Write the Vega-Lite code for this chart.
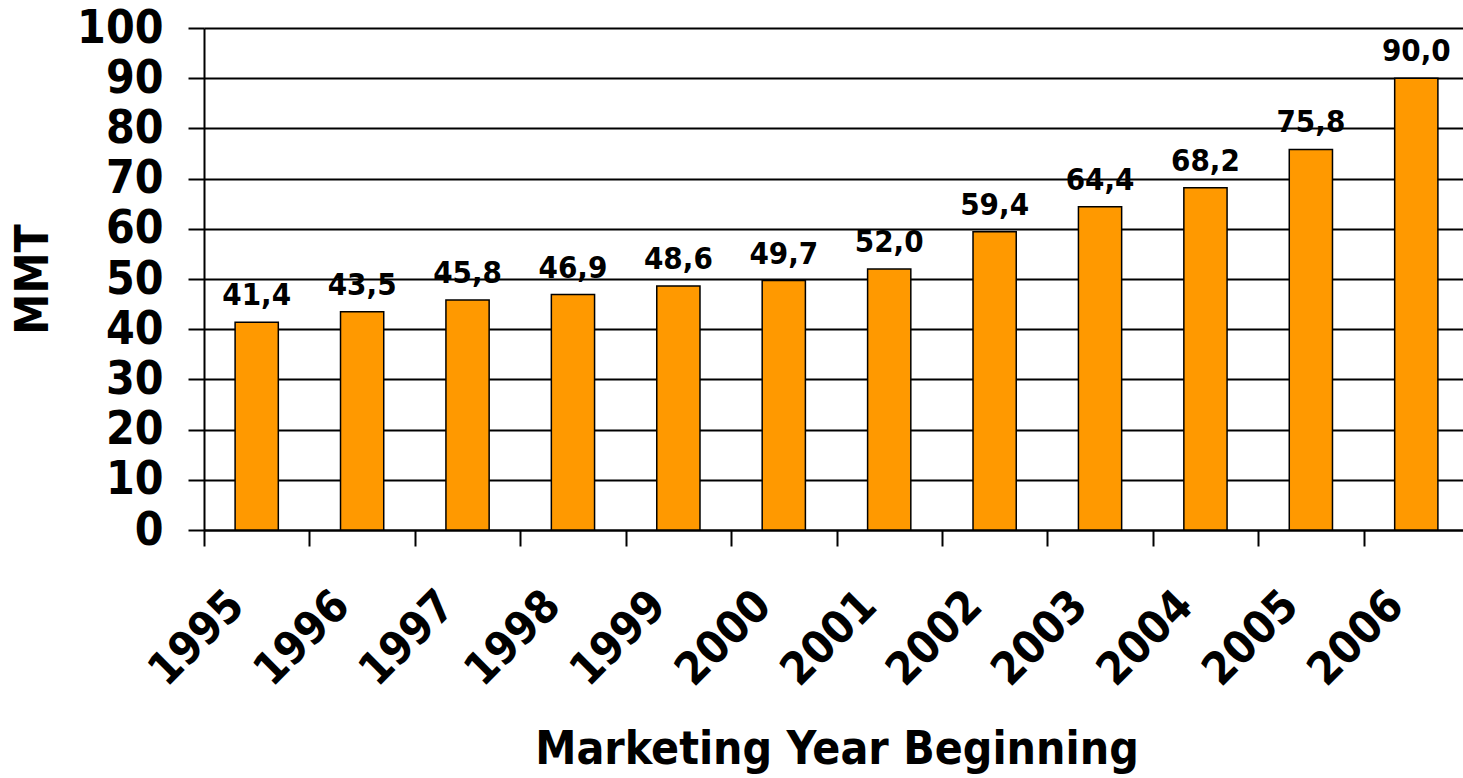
{
  "$schema": "https://vega.github.io/schema/vega-lite/v6.json",
  "autosize": {"type": "none"},
  "width": 1259,
  "height": 502,
  "padding": {"left": 204, "top": 28, "right": 0, "bottom": 248},
  "background": "white",
  "config": {
    "view": {"stroke": null},
    "font": "DejaVu Sans Condensed",
    "locale": {"number": {"decimal": ",", "thousands": ".", "grouping": [3], "currency": ["", ""]}}
  },
  "data": {"values": [
    {"year": "1995", "mmt": 41.4},
    {"year": "1996", "mmt": 43.5},
    {"year": "1997", "mmt": 45.8},
    {"year": "1998", "mmt": 46.9},
    {"year": "1999", "mmt": 48.6},
    {"year": "2000", "mmt": 49.7},
    {"year": "2001", "mmt": 52.0},
    {"year": "2002", "mmt": 59.4},
    {"year": "2003", "mmt": 64.4},
    {"year": "2004", "mmt": 68.2},
    {"year": "2005", "mmt": 75.8},
    {"year": "2006", "mmt": 90.0}
  ]},
  "encoding": {
    "x": {
      "field": "year", "type": "nominal", "sort": null,
      "scale": {"range": [0, 1265], "paddingInner": 0.59, "paddingOuter": 0.295},
      "axis": {
        "title": "Marketing Year Beginning",
        "titleFont": "DejaVu Sans Condensed", "titleFontSize": 46, "titleFontWeight": "bold", "titleColor": "black",
        "titlePadding": 34,
        "labelAngle": -45, "labelAlign": "right", "labelBaseline": "middle",
        "labelFont": "DejaVu Sans Condensed", "labelFontSize": 45, "labelFontWeight": "bold", "labelColor": "black",
        "labelPadding": 52, "labelOffset": 32,
        "tickOffset": -52.7, "tickSize": 16, "tickColor": "black", "tickWidth": 2,
        "domain": true, "domainColor": "black", "domainWidth": 2,
        "grid": false
      }
    },
    "y": {
      "field": "mmt", "type": "quantitative",
      "scale": {"domain": [0, 100], "nice": false},
      "axis": {
        "title": "MMT",
        "titleFont": "DejaVu Sans Condensed", "titleFontSize": 46, "titleFontWeight": "bold", "titleColor": "black",
        "titlePadding": 19,
        "values": [0, 10, 20, 30, 40, 50, 60, 70, 80, 90, 100],
        "labelFont": "DejaVu Sans Condensed", "labelFontSize": 46, "labelFontWeight": "bold", "labelColor": "black",
        "labelPadding": 25,
        "tickSize": 16, "tickColor": "black", "tickWidth": 2,
        "domainColor": "black", "domainWidth": 2,
        "grid": true, "gridColor": "black", "gridWidth": 2, "gridOpacity": 1
      }
    }
  },
  "layer": [
    {"mark": {"type": "bar", "color": "#FF9900", "stroke": "black", "strokeWidth": 1.5}},
    {
      "mark": {"type": "text", "baseline": "alphabetic", "dy": -17, "fontSize": 31, "fontWeight": "bold", "font": "DejaVu Sans Condensed", "color": "black"},
      "encoding": {"text": {"field": "mmt", "type": "quantitative", "format": ".1f"}}
    }
  ]
}
